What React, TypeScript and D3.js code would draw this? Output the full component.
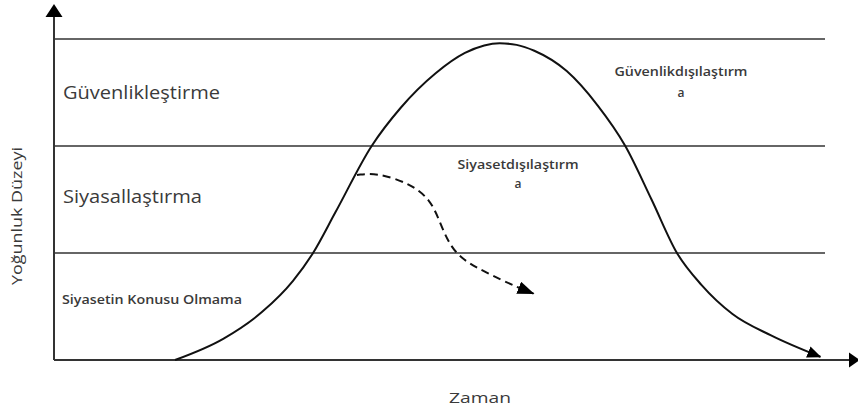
import React from "react";
import * as d3 from "d3";

// Levels (y bands) and their labels
const levelValues = [0, 1, 2, 3];
const bandLabels = ["Siyasetin Konusu Olmama", "Siyasallaştırma", "Güvenlikleştirme"];

// Main curve: time (0-100) vs intensity level (0-3)
const mainTime = [15.7, 22, 27, 31, 33.6, 36.5, 41.2, 45, 49.5, 53.3, 55.8, 57.8, 60, 62.3, 66.5, 70.5, 74.1, 77.5, 80.8, 84, 88, 93, 99.4];
const mainLevel = [0, 0.2, 0.45, 0.74, 1.0, 1.38, 2.0, 2.36, 2.68, 2.87, 2.94, 2.96, 2.945, 2.89, 2.7, 2.38, 2.0, 1.5, 1.0, 0.7, 0.43, 0.23, 0.03];

// Dashed curve (desecuritization of politics)
const dashTime = [39.3, 41.9, 46.2, 48.8, 50.0, 51.0, 52.6, 56.2, 60.1, 62.2];
const dashLevel = [1.73, 1.75, 1.65, 1.5, 1.3, 1.12, 0.95, 0.81, 0.68, 0.62];

const xTitle = "Zaman";
const yTitle = "Yoğunluk Düzeyi";
const annoDeSec = ["Güvenlikdışılaştırm", "a"];
const annoDePol = ["Siyasetdışılaştırm", "a"];

export default function App() {
  const W = 858;
  const H = 412;
  const x = d3.scaleLinear().domain([0, 100]).range([54, 825]);
  const y = d3.scaleLinear().domain([0, 3]).range([360, 39]);

  const mainLine = d3
    .line<[number, number]>()
    .x((d) => x(d[0]))
    .y((d) => y(d[1]))
    .curve(d3.curveMonotoneX);

  const dashLine = d3
    .line<[number, number]>()
    .x((d) => x(d[0]))
    .y((d) => y(d[1]))
    .curve(d3.curveBasis);

  const mainPts: [number, number][] = mainTime.map((t, i) => [t, mainLevel[i]]);
  const dashPts: [number, number][] = dashTime.map((t, i) => [t, dashLevel[i]]);

  const font = "'Open Sans', 'Liberation Sans', sans-serif";
  const textCol = "#3a3a3a";
  const lineCol = "#333";

  return (
    <svg
      width={W}
      height={H}
      style={{ position: "absolute", left: 0, top: 0, background: "#fff" }}
      xmlns="http://www.w3.org/2000/svg"
    >
      <defs>
        <marker id="arrMain" viewBox="0 0 14 12" refX="13" refY="6" markerWidth="14" markerHeight="12" markerUnits="userSpaceOnUse" orient="auto">
          <path d="M0,0 L14,6 L0,12 Z" fill="#000" />
        </marker>
        <marker id="arrDash" viewBox="0 0 17 13" refX="16" refY="6.5" markerWidth="17" markerHeight="13" markerUnits="userSpaceOnUse" orient="auto">
          <path d="M0,0 L17,6.5 L0,13 Z" fill="#000" />
        </marker>
      </defs>

      {/* level lines */}
      {levelValues.slice(1).map((v) => (
        <line key={v} x1={x(0)} x2={x(100)} y1={y(v)} y2={y(v)} stroke={lineCol} strokeWidth={1.5} />
      ))}

      {/* axes */}
      <line x1={x(0)} x2={849} y1={y(0)} y2={y(0)} stroke={lineCol} strokeWidth={2} />
      <path d={`M849,${y(0) - 7.5} L860,${y(0)} L849,${y(0) + 7.5} Z`} fill="#000" />
      <line x1={x(0)} x2={x(0)} y1={y(0)} y2={15} stroke={lineCol} strokeWidth={2} />
      <path d={`M${x(0) - 8.5},17 L${x(0)},4 L${x(0) + 8.5},17 Z`} fill="#000" />

      {/* curves */}
      <path d={mainLine(mainPts) || ""} fill="none" stroke="#111" strokeWidth={2} markerEnd="url(#arrMain)" />
      <path d={dashLine(dashPts) || ""} fill="none" stroke="#111" strokeWidth={2} strokeDasharray="8,5" markerEnd="url(#arrDash)" />

      {/* band labels */}
      <text x={63} y={99} fontFamily={font} fontSize={19} fill={textCol} textLength={157} lengthAdjust="spacingAndGlyphs">
        {bandLabels[2]}
      </text>
      <text x={63} y={203} fontFamily={font} fontSize={18} fill={textCol} textLength={139} lengthAdjust="spacingAndGlyphs">
        {bandLabels[1]}
      </text>
      <text x={62} y={304} fontFamily={font} fontSize={12} fontWeight={600} fill={textCol} textLength={180} lengthAdjust="spacingAndGlyphs">
        {bandLabels[0]}
      </text>

      {/* annotations */}
      <text x={681} y={76} fontFamily={font} fontSize={12} fontWeight={600} fill={textCol} textAnchor="middle" textLength={133} lengthAdjust="spacingAndGlyphs">
        {annoDeSec[0]}
      </text>
      <text x={681} y={97} fontFamily={font} fontSize={12} fontWeight={600} fill={textCol} textAnchor="middle">
        {annoDeSec[1]}
      </text>
      <text x={518} y={169} fontFamily={font} fontSize={12} fontWeight={600} fill={textCol} textAnchor="middle" textLength={121} lengthAdjust="spacingAndGlyphs">
        {annoDePol[0]}
      </text>
      <text x={518} y={188} fontFamily={font} fontSize={12} fontWeight={600} fill={textCol} textAnchor="middle">
        {annoDePol[1]}
      </text>

      {/* axis titles */}
      <text x={480} y={403} fontFamily={font} fontSize={15} fill={textCol} textAnchor="middle" textLength={62} lengthAdjust="spacingAndGlyphs">
        {xTitle}
      </text>
      <text
        transform="translate(22,216) rotate(-90)"
        fontFamily={font}
        fontSize={14}
        fill={textCol}
        textAnchor="middle"
        textLength={138}
        lengthAdjust="spacingAndGlyphs"
      >
        {yTitle}
      </text>
    </svg>
  );
}
